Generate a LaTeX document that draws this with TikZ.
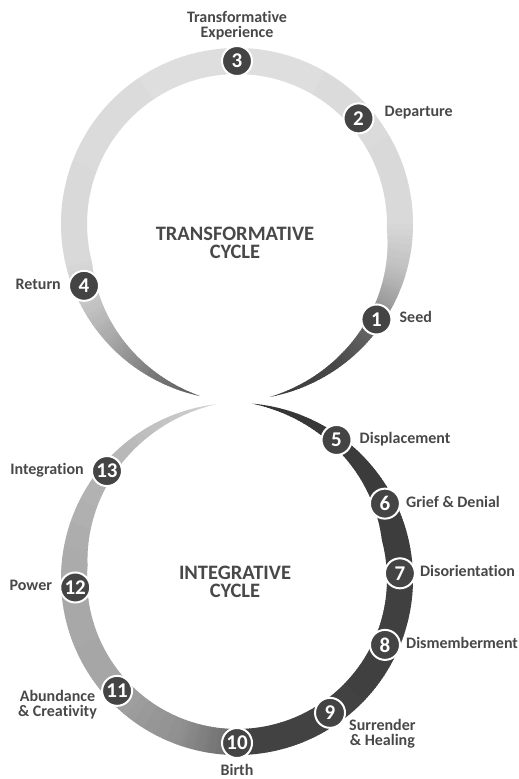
\documentclass[tikz,border=0pt]{standalone}
\usepackage{fontspec}
\setmainfont{Carlito}[Ligatures=NoCommon]
\usetikzlibrary{positioning}
\definecolor{ink}{RGB}{72, 72, 72}
\definecolor{disc}{RGB}{68, 68, 68}

\begin{document}
\begin{tikzpicture}[x=1pt, y=-1pt,
    stage/.style={circle, draw=white, line width=2pt, fill=disc, minimum size=30pt, inner sep=0pt, text=white, font=\bfseries\fontsize{21}{21}\selectfont},
    lbl/.style={inner sep=0pt, text=ink, font=\bfseries\fontsize{16}{15}\selectfont, text height=10pt, text depth=3pt},
    lbls/.style={inner sep=0pt, text=ink, align=center, font=\bfseries\fontsize{16}{15}\selectfont},
    title/.style={inner sep=0pt, text=ink, align=center, font=\bfseries\fontsize{20.5}{18}\selectfont}]
  \useasboundingbox (0,0) rectangle (519,779);

  % upper ring: light on top, thinning and darkening into the crossing
  \begin{scope}[shift={(237,224)}]
    \foreach \angA/\angB/\grA/\grB in {102/120/64/52, 120/135/52/36, 135/150/36/24, 150/165/24/16, 165/270/16/13,
        270/360/13/16, 360/375/16/25, 375/388/25/40, 388/400/40/62, 400/415/62/72, 415/439/72/78}{
      \pgfmathtruncatemacro{\angE}{\angB-1}
      \foreach \ang in {\angA,...,\angE}{
        \pgfmathsetmacro{\angN}{\ang+1.3}
        \pgfmathsetmacro{\wA}{max(0,min(26,26*(\ang-102)/63,26*(439-\ang)/77))}
        \pgfmathsetmacro{\wB}{max(0,min(26,26*(\angN-102)/63,26*(439-\angN)/77))}
        \pgfmathtruncatemacro{\gr}{\grA+(\grB-\grA)*(\ang-\angA)/(\angB-\angA)}
        \fill[black!\gr] (\ang:176) -- (\angN:176) -- (\angN:{176-\wB}) -- (\ang:{176-\wA}) -- cycle;
      }
    }
    \node[stage] (n3) at (270:163) {3};
    \node[stage] (n2) at (319:161) {2};
    \node[stage] (n1) at (34.4:169) {1};
    \node[stage] (n4) at (158:165) {4};
    \node[title] (tc) at (-2,19) {TRANSFORMATIVE\\CYCLE};
  \end{scope}

  % lower ring: dark on the right, grey on the left
  \begin{scope}[shift={(237,579)}]
    \foreach \angA/\angB/\grA/\grB in {-85/-54/80/78, -54/0/78/76, 0/86/76/74, 86/94/74/56, 94/110/56/44,
        110/140/44/36, 140/190/36/33, 190/230/33/28, 230/263/28/18}{
      \pgfmathtruncatemacro{\angE}{\angB-1}
      \foreach \ang in {\angA,...,\angE}{
        \pgfmathsetmacro{\angN}{\ang+1.3}
        \pgfmathsetmacro{\wA}{max(0,min(26,26*(\ang+85)/70,26*(263-\ang)/78))}
        \pgfmathsetmacro{\wB}{max(0,min(26,26*(\angN+85)/70,26*(263-\angN)/78))}
        \pgfmathtruncatemacro{\gr}{\grA+(\grB-\grA)*(\ang-\angA)/(\angB-\angA)}
        \fill[black!\gr] (\ang:176) -- (\angN:176) -- (\angN:{176-\wB}) -- (\ang:{176-\wA}) -- cycle;
      }
    }
    \node[stage] (n5) at (-54.4:171) {5};
    \node[stage] (n6) at (-27:166) {6};
    \node[stage] (n7) at (-2:163) {7};
    \node[stage] (n8) at (24:162) {8};
    \node[stage] (n9) at (55.2:163) {9};
    \node[stage] (n10) at (90:164) {10};
    \node[stage] (n11) at (137:164) {11};
    \node[stage] (n12) at (177:162) {12};
    \node[stage] (n13) at (219.7:169) {13};
    \node[title] (ic) at (-2,3) {INTEGRATIVE\\CYCLE};
  \end{scope}

  % stage names
  \node[lbls, above=5pt of n3] (l3) {Transformative\\Experience};
  \node[lbl, right=10pt of n2, yshift=5pt] (l2) {Departure};
  \node[lbl, right=7pt of n1] (l1) {Seed};
  \node[lbl, left=7pt of n4] (l4) {Return};
  \node[lbl, right=7pt of n5] (l5) {Displacement};
  \node[lbl, right=5pt of n6] (l6) {Grief \& Denial};
  \node[lbl, right=4pt of n7] (l7) {Disorientation};
  \node[lbl, right=5pt of n8] (l8) {Dismemberment};
  \node[lbls, right=3pt of n9, yshift=-21pt] (l9) {Surrender\\\& Healing};
  \node[lbl, below=6pt of n10] (l10) {Birth};
  \node[lbls, left=4pt of n11, yshift=-14pt] (l11) {Abundance\\\& Creativity};
  \node[lbl, left=7pt of n12] (l12) {Power};
  \node[lbl, left=7pt of n13] (l13) {Integration};
\end{tikzpicture}
\end{document}
